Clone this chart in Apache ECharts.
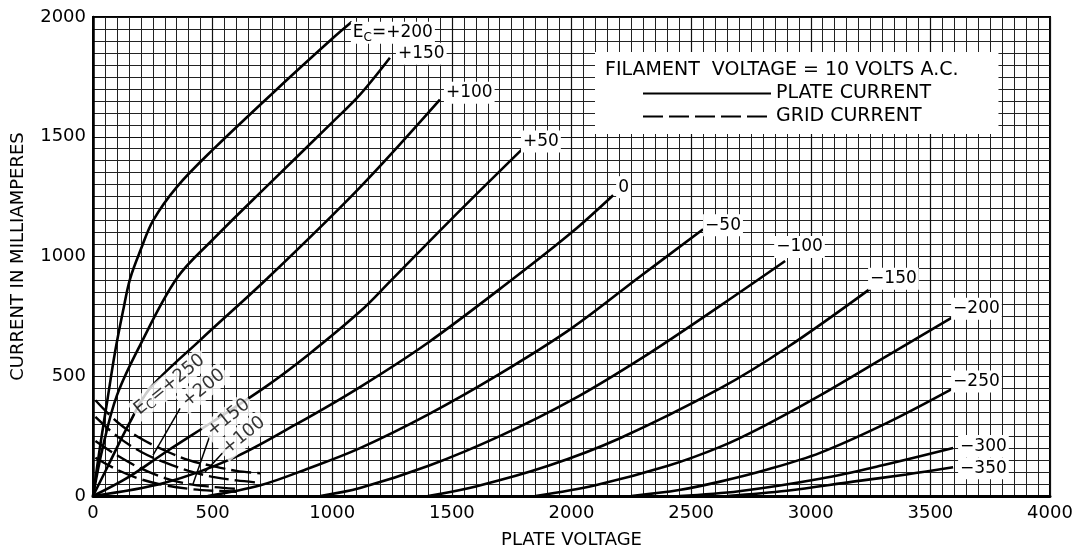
<!DOCTYPE html>
<html><head><meta charset="utf-8">
<script src="https://cdn.jsdelivr.net/npm/echarts@6/dist/echarts.min.js"></script>
<style>html,body{margin:0;padding:0;background:#fff}#c{width:1088px;height:554px}</style>
</head><body><div id="c"></div>
<script>
// ---------- DATA ----------
const xTickValues = [0, 500, 1000, 1500, 2000, 2500, 3000, 3500, 4000];
const xTickLabels = ['0', '500', '1000', '1500', '2000', '2500', '3000', '3500', '4000'];
const yTickValues = [0, 500, 1000, 1500, 2000];
const yTickLabels = ['0', '500', '1000', '1500', '2000'];

// plate current curves, [plate volts, mA]
const plateP200 = [[0,0],[30,210],[60,400],[92,600],[125,770],[155,907],[200,1030],[251,1150],[350,1290],[502,1447],[753,1684],[1004,1913],[1082,1980]];
const plateP150 = [[0,0],[40,200],[100,420],[196,628],[351,910],[500,1070],[727,1294],[1000,1560],[1116,1676],[1241,1830]];
const plateP100 = [[0,0],[60,120],[150,300],[238,449],[447,650],[727,907],[1116,1289],[1450,1655]];
const plateP50  = [[0,0],[150,80],[309,187],[500,310],[727,460],[900,590],[1116,770],[1241,895],[1492,1150],[1793,1447]];
const plate0    = [[0,0],[300,55],[585,158],[850,300],[1116,455],[1400,640],[1756,907],[2000,1100],[2174,1256]];
const plateM50  = [[480,0],[700,45],[900,115],[1116,200],[1400,340],[1700,510],[2000,700],[2274,907],[2550,1114]];
const plateM100 = [[950,0],[1116,33],[1400,125],[1700,250],[2000,400],[2300,580],[2621,794],[2893,981]];
const plateM150 = [[1400,0],[1600,40],[1900,125],[2200,240],[2621,449],[2901,620],[3248,865]];
const plateM200 = [[1850,0],[2100,45],[2400,125],[2621,205],[2800,290],[3039,420],[3319,585],[3595,748]];
const plateM250 = [[2250,0],[2450,25],[2621,60],[2800,105],[3039,180],[3319,305],[3595,449]];
const plateM300 = [[2450,0],[2700,20],[3039,72],[3300,128],[3595,200]];
const plateM350 = [[2650,0],[2900,22],[3177,60],[3400,90],[3595,120]];
const plateGridVolts = ['+200', '+150', '+100', '+50', '0', '−50', '−100', '−150', '−200', '−250', '−300', '−350'];

// grid current curves
const gridP250 = [[10,400],[100,310],[200,240],[300,190],[400,150],[500,125],[600,105],[700,95]];
const gridP200 = [[10,330],[100,250],[200,185],[300,140],[400,105],[500,80],[600,65],[700,55]];
const gridP150 = [[10,230],[100,170],[200,115],[300,75],[400,50],[500,38],[600,30]];
const gridP100 = [[10,160],[100,110],[200,70],[300,45],[400,30],[500,22],[600,18]];
const gridGridVolts = ['+250', '+200', '+150', '+100'];
// label anchors for the grid-current family (data units)
const gridLabelAnchors = [[320,465],[462,450],[566,326],[630,252]];
// leader lines from labels to their curves (data units)
const leaderP200 = [[364,366],[251,171]];
const leaderP150 = [[489,254],[418,50]];
const leaderP100 = [[552,191],[468,100]];

// ---------- STYLE ----------
const FONT = 'DejaVu Sans';
const plateCurves = [plateP200, plateP150, plateP100, plateP50, plate0, plateM50, plateM100, plateM150, plateM200, plateM250, plateM300, plateM350];
const gridCurves = [gridP250, gridP200, gridP150, gridP100];
const plateLabelOffsets = [[-9,11],[-2,-4],[-4,-7],[-9,-8],[-5,-8],[-8,-4],[-19,-14],[-10,-10],[-10,-8],[-10,-7],[-3,-2],[-3,1]];
const rich = {
  e: {fontSize: 17, fontFamily: FONT, color: '#000', lineHeight: 22, verticalAlign: 'middle'},
  s: {fontSize: 12, fontFamily: FONT, color: '#000', lineHeight: 22, verticalAlign: 'bottom'},
  e2: {fontSize: 18, fontFamily: FONT, color: '#000', lineHeight: 22, verticalAlign: 'middle'},
  s2: {fontSize: 13, fontFamily: FONT, color: '#000', lineHeight: 22, verticalAlign: 'bottom'}
};
function ecText(v, first, big) {
  const e = big ? 'e2' : 'e', s = big ? 's2' : 's';
  return first ? '{' + e + '|E}{' + s + '|C}{' + e + '|=' + v + '}' : '{' + e + '|' + v + '}';
}

const series = [];
plateCurves.forEach((d, i) => {
  series.push({
    type: 'line', name: 'PLATE CURRENT', data: d, smooth: 0.35,
    symbol: 'none', showSymbol: false, silent: true, z: 3,
    lineStyle: {color: '#000', width: 2.6}, itemStyle: {color: '#000'},
    endLabel: {show: true, formatter: ecText(plateGridVolts[i], i === 0, false), offset: plateLabelOffsets[i],
      backgroundColor: '#fff', padding: [0, 2], rich: rich}
  });
});
gridCurves.forEach((d) => {
  series.push({
    type: 'line', name: 'GRID CURRENT', data: d, smooth: 0.35,
    symbol: 'none', showSymbol: false, silent: true, z: 3,
    lineStyle: {color: '#000', width: 2.4, type: [20, 6]}, itemStyle: {color: '#000'}
  });
});
[leaderP200, leaderP150, leaderP100].forEach((d) => {
  series.push({type: 'line', name: 'leader', data: d, symbol: 'none', silent: true, z: 3,
    lineStyle: {color: '#000', width: 1.5}});
});
series.push({
  type: 'scatter', name: 'gridLabels', silent: true, z: 5, symbolSize: 0,
  data: gridLabelAnchors.map((p, i) => ({value: p, label: {formatter: ecText(gridGridVolts[i], i === 0, true)}})),
  label: {show: true, position: 'inside', rotate: 39, backgroundColor: '#fff', padding: [0, 3], rich: rich}
});

const axisName = {fontSize: 18, color: '#000', fontFamily: FONT};
const option = {
  animation: false,
  backgroundColor: '#fff',
  textStyle: {fontFamily: FONT, color: '#000'},
  grid: {left: 93, right: 38, top: 17, bottom: 56, show: true, borderColor: '#000', borderWidth: 2, backgroundColor: '#fff'},
  title: {
    text: 'FILAMENT  VOLTAGE = 10 VOLTS A.C.', left: 595, top: 52, padding: [9, 40, 54, 10],
    backgroundColor: '#fff', z: 6,
    textStyle: {fontSize: 19, fontWeight: 'normal', color: '#000', fontFamily: FONT}
  },
  legend: {
    data: ['PLATE CURRENT', 'GRID CURRENT'], orient: 'vertical', left: 642, top: 84, padding: 0,
    itemWidth: 128, itemHeight: 14, itemGap: 4, selectedMode: false, z: 7,
    itemStyle: {opacity: 0},
    textStyle: {fontSize: 19, color: '#000', fontFamily: FONT}
  },
  xAxis: {
    type: 'value', min: 0, max: 4000, interval: 500,
    name: 'PLATE VOLTAGE', nameLocation: 'middle', nameGap: 35, nameTextStyle: axisName,
    axisLine: {show: true, onZero: false, lineStyle: {color: '#000', width: 3}},
    axisTick: {show: false},
    axisLabel: {fontSize: 18, color: '#000', fontFamily: FONT, margin: 8,
      formatter: (v) => { const k = xTickValues.indexOf(v); return k < 0 ? '' : xTickLabels[k]; }},
    splitLine: {show: true, lineStyle: {color: '#111', width: 1.2}},
    minorTick: {show: false, splitNumber: 10},
    minorSplitLine: {show: true, lineStyle: {color: '#222', width: 1}}
  },
  yAxis: {
    type: 'value', min: 0, max: 2000, interval: 500,
    name: 'CURRENT IN MILLIAMPERES', nameLocation: 'middle', nameGap: 66, nameTextStyle: axisName,
    axisLine: {show: true, onZero: false, lineStyle: {color: '#000', width: 2.5}},
    axisTick: {show: false},
    axisLabel: {fontSize: 18, color: '#000', fontFamily: FONT, margin: 7,
      formatter: (v) => { const k = yTickValues.indexOf(v); return k < 0 ? '' : yTickLabels[k]; }},
    splitLine: {show: true, lineStyle: {color: '#111', width: 1.2}},
    minorTick: {show: false, splitNumber: 10},
    minorSplitLine: {show: true, lineStyle: {color: '#222', width: 1}}
  },
  series: series
};
const chart = echarts.init(document.getElementById('c'), null, {renderer: 'canvas'});
chart.setOption(option);
</script>
</body></html>
